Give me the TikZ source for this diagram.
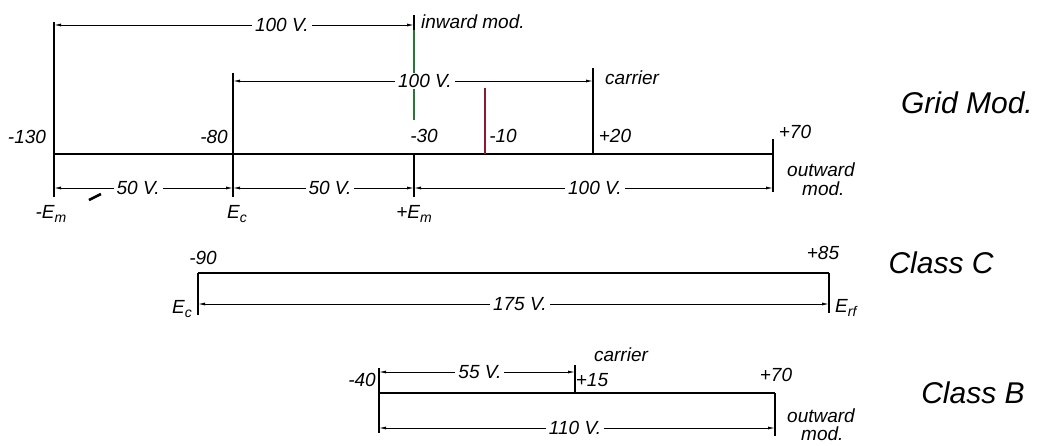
\documentclass[tikz,border=0pt]{standalone}
\usepackage{fontspec}
\setmainfont{Liberation Sans}
\usetikzlibrary{arrows.meta}
\newcommand\lsub[1]{\raisebox{-0.45ex}{\fontsize{14}{14}\selectfont #1}}
\definecolor{tickgreen}{RGB}{40,120,50}
\definecolor{tickred}{RGB}{140,25,45}
\tikzset{
  baseline/.style={line width=2.3pt},
  tickline/.style={line width=1.5pt},
  dimline/.style={line width=0.9pt, {Latex[length=7pt,width=3pt]}-{Latex[length=7pt,width=3pt]}},
  lbl/.style={font=\fontsize{19}{19}\selectfont\itshape, inner sep=1pt},
  dimlbl/.style={lbl, fill=white, inner xsep=3pt, inner ysep=1pt},
  cls/.style={font=\fontsize{30}{30}\selectfont\itshape, inner sep=0pt},
}
\begin{document}
\begin{tikzpicture}[x=1pt,y=-1pt]
\useasboundingbox (0,0) rectangle (1045,445);

% ---------- Grid Mod ----------
\coordinate (gL) at (54,154);
\coordinate (gR) at (773,154);
\coordinate (t130a) at (54,22);   \coordinate (t130b) at (54,197);
\coordinate (t80a) at (233,73);   \coordinate (t80b) at (233,197);
\coordinate (t30a) at (414,15);   \coordinate (t30g) at (414,30);
\coordinate (t30c) at (414,120);  \coordinate (t30d) at (414,154);
\coordinate (t30e) at (414,197);
\coordinate (t10a) at (485,88);   \coordinate (t10b) at (485,154);
\coordinate (t20a) at (593,68);   \coordinate (t20b) at (593,154);
\coordinate (t70a) at (773,139);  \coordinate (t70b) at (773,192);

\draw[baseline] (gL) -- (gR);
\draw[tickline] (t130a) -- (t130b);
\draw[tickline] (t80a) -- (t80b);
\draw[tickline] (t30a) -- (t30g);
\draw[tickline, tickgreen] (t30g) -- (t30c);
\draw[tickline] (t30d) -- (t30e);
\draw[tickline, tickred] (t10a) -- (t10b);
\draw[tickline] (t20a) -- (t20b);
\draw[tickline] (t70a) -- (t70b);

\coordinate (d1a) at (54,25);   \coordinate (d1b) at (414,25);
\coordinate (d2a) at (233,81);  \coordinate (d2b) at (593,81);
\coordinate (d3a) at (54,188);  \coordinate (d3b) at (233,188);
\coordinate (d4b) at (414,188); \coordinate (d5b) at (773,188);

\draw[dimline] (d1a) -- node[dimlbl, pos=0.633] (v1) {100 V.} (d1b);
\draw[dimline] (d2a) -- node[dimlbl, pos=0.533] (v2) {100 V.} (d2b);
\draw[dimline] (d3a) -- node[dimlbl, pos=0.47] (v3) {50 V.} (d3b);
\draw[dimline] (d3b) -- node[dimlbl, pos=0.536] (v4) {50 V.} (d4b);
\draw[dimline] (d4b) -- node[dimlbl, pos=0.504] (v5) {100 V.} (d5b);

\coordinate (mk1) at (89,200); \coordinate (mk2) at (101,194);
\draw[line width=2.5pt] (mk1) -- (mk2);

\node[lbl, anchor=west] (inw) at (420,22) {inward mod.};
\node[lbl, anchor=west] (car1) at (604,78) {carrier};
\node[lbl] (n130) at (27,137) {-130};
\node[lbl] (n80) at (214,137) {-80};
\node[lbl] (n30) at (424,136) {-30};
\node[lbl] (n10) at (503,136) {-10};
\node[lbl] (n20) at (615,136) {+20};
\node[lbl] (n70) at (795,132) {+70};
\node[lbl, anchor=base] (emm) at (51,218) {-E\lsub{m}};
\node[lbl, anchor=base] (ec1) at (237,218) {E\lsub{c}};
\node[lbl, anchor=base] (emp) at (414,218) {+E\lsub{m}};
\node[lbl, anchor=base west] (out1) at (786,176) {outward};
\node[lbl, anchor=base west] (mod1) at (801,195) {mod.};
\node[cls] (gm) at (967,103) {Grid Mod.};

% ---------- Class C ----------
\coordinate (cL) at (198,273);  \coordinate (cR) at (829,273);
\coordinate (cLb) at (198,315); \coordinate (cRb) at (829,313);
\coordinate (cda) at (198,304); \coordinate (cdb) at (829,304);
\draw[baseline] (cL) -- (cR);
\draw[tickline] (cL) -- (cLb);
\draw[tickline] (cR) -- (cRb);
\draw[dimline] (cda) -- node[dimlbl, pos=0.51] (v6) {175 V.} (cdb);
\node[lbl] (n90) at (203,258) {-90};
\node[lbl] (n85) at (823,253) {+85};
\node[lbl, anchor=base] (ec2) at (182,313) {E\lsub{c}};
\node[lbl, anchor=base west] (erf) at (834,312) {E\lsub{rf}};
\node[cls] (cc) at (941,263) {Class C};

% ---------- Class B ----------
\coordinate (bL) at (379,393);  \coordinate (bR) at (775,393);
\coordinate (bLa) at (379,368); \coordinate (bLb) at (379,433);
\coordinate (bRb) at (775,436);
\coordinate (bCa) at (575,365);  \coordinate (bC) at (575,393);
\coordinate (bua) at (379,372); \coordinate (bub) at (575,372);
\coordinate (bla) at (379,428); \coordinate (blb) at (775,428);
\draw[baseline] (bL) -- (bR);
\draw[tickline] (bLa) -- (bLb);
\draw[tickline] (bR) -- (bRb);
\draw[tickline] (bCa) -- (bC);
\draw[dimline] (bua) -- node[dimlbl, pos=0.515] (v7) {55 V.} (bub);
\draw[dimline] (bla) -- node[dimlbl, pos=0.495] (v8) {110 V.} (blb);
\node[lbl] (n40) at (362,380) {-40};
\node[lbl] (car2) at (621,355) {carrier};
\node[lbl] (n15) at (592,380) {+15};
\node[lbl] (n70b) at (776,375) {+70};
\node[lbl, anchor=base west] (out2) at (786,422) {outward};
\node[lbl, anchor=base west] (mod2) at (800,440) {mod.};
\node[cls] (cb) at (973,393) {Class B};
\end{tikzpicture}
\end{document}
